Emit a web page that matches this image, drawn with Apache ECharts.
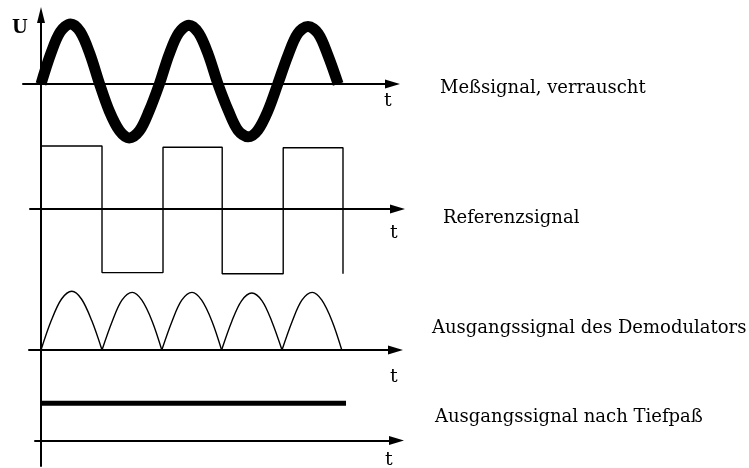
<!DOCTYPE html>
<html>
<head>
<meta charset="utf-8">
<script src="https://cdn.jsdelivr.net/npm/echarts@6/dist/echarts.min.js"></script>
<style>
  html, body { margin: 0; padding: 0; background: #fff; }
  #chart { width: 749px; height: 468px; }
</style>
</head>
<body>
<div id="chart"></div>
<script>
// Lock-in principle: time t in half-periods of the reference, voltage U in arbitrary units.

// Noisy measured signal (2.5 periods)
const measuredSignal = [
  [0, 0], [0.16, 0.5], [0.32, 0.87], [0.49, 1.0], [0.65, 0.87], [0.81, 0.5], [0.97, 0],
  [1.13, -0.45], [1.30, -0.78], [1.46, -0.9], [1.63, -0.78], [1.79, -0.45], [1.96, 0],
  [2.12, 0.49], [2.28, 0.85], [2.45, 0.98], [2.61, 0.85], [2.77, 0.49], [2.93, 0],
  [3.10, -0.44], [3.26, -0.77], [3.43, -0.88], [3.59, -0.77], [3.76, -0.44], [3.92, 0],
  [4.09, 0.48], [4.25, 0.84], [4.42, 0.96], [4.59, 0.84], [4.75, 0.48], [4.92, 0]
];

// Square-wave reference
const referenceSignal = [
  [0, 1.05], [1.01, 1.05], [1.01, -1.06], [2.02, -1.06],
  [2.02, 1.03], [3.0, 1.03], [3.0, -1.08], [4.01, -1.08],
  [4.01, 1.02], [5.0, 1.02], [5.0, -1.08]
];

// Demodulator output: one arch per half-period
const demodArc1 = [[0, 0], [0.17, 0.49], [0.34, 0.85], [0.51, 0.98], [0.67, 0.85], [0.84, 0.49], [1.01, 0]];
const demodArc2 = [[1.01, 0], [1.18, 0.48], [1.34, 0.83], [1.51, 0.96], [1.67, 0.83], [1.84, 0.48], [2.0, 0]];
const demodArc3 = [[2.0, 0], [2.17, 0.48], [2.33, 0.83], [2.5, 0.96], [2.66, 0.83], [2.83, 0.48], [2.99, 0]];
const demodArc4 = [[2.99, 0], [3.16, 0.48], [3.32, 0.82], [3.49, 0.95], [3.66, 0.82], [3.82, 0.48], [3.99, 0]];
const demodArc5 = [[3.99, 0], [4.16, 0.48], [4.32, 0.83], [4.49, 0.96], [4.65, 0.83], [4.82, 0.48], [4.98, 0]];
const demodulatorOutput = [demodArc1, demodArc2, demodArc3, demodArc4, demodArc5];

// Output after the low-pass filter (constant level)
const lowpassOutput = [[0, 0.62], [5.05, 0.62]];

const signalNames = [
  'Meßsignal, verrauscht',
  'Referenzsignal',
  'Ausgangssignal des Demodulators',
  'Ausgangssignal nach Tiefpaß'
];
const timeAxisName = 't';
const voltageAxisName = 'U';

// ---- layout (pixels) ----
const INK = '#000';
const SERIF = '"DejaVu Serif", "Liberation Serif", serif';
const X0 = 41;          // pixel of t = 0 (vertical axis)
const PX_PER_T = 60.4;  // pixels per half-period
const PX_PER_U = 60;    // pixels per voltage unit
const U_SPAN = 1.5;
const ARROW_LEN = 15;
const SMOOTH = 0.33;

const panels = [
  { y0: 84,    start: 23, tip: 400, tX: 388, tY: 101, labelX: 440, labelY: 86 },
  { y0: 209,   start: 30, tip: 405, tX: 394, tY: 233, labelX: 443, labelY: 216 },
  { y0: 350,   start: 29, tip: 403, tX: 394, tY: 377, labelX: 432, labelY: 326 },
  { y0: 440.5, start: 35, tip: 404, tX: 389, tY: 460, labelX: 435, labelY: 415 }
];

const textStyle = (size, weight) => ({ color: INK, fontFamily: SERIF, fontSize: size, fontWeight: weight || 'normal', lineHeight: 22 });

const grids = [], xAxes = [], yAxes = [], titles = [];
panels.forEach((p, i) => {
  const end = p.tip - ARROW_LEN / 2;
  grids.push({
    left: p.start, width: end - p.start,
    top: p.y0 - U_SPAN * PX_PER_U, height: 2 * U_SPAN * PX_PER_U,
    containLabel: false, outerBoundsMode: 'none'
  });
  xAxes.push({
    gridIndex: i, type: 'value',
    min: (p.start - X0) / PX_PER_T, max: (end - X0) / PX_PER_T,
    axisLine: { show: true, onZero: true, symbol: ['none', 'triangle'], symbolSize: [9, ARROW_LEN], lineStyle: { color: INK, width: 2 } },
    axisTick: { show: false }, axisLabel: { show: false }, splitLine: { show: false }
  });
  yAxes.push({ gridIndex: i, type: 'value', min: -U_SPAN, max: U_SPAN, show: false });
  // signal description on the right
  titles.push({ text: signalNames[i], left: p.labelX, top: p.labelY - 9, padding: 0, textStyle: textStyle(18) });
  // time-axis caption under the arrow
  titles.push({ text: timeAxisName, left: p.tX - 4, top: p.tY - 11, padding: 0, textStyle: textStyle(19) });
});

// Common vertical voltage axis spanning all four traces
const vTop = 7 + 8, vBottom = 466;
grids.push({ left: X0, width: 10, top: vTop, height: vBottom - vTop, containLabel: false, outerBoundsMode: 'none' });
xAxes.push({ gridIndex: 4, type: 'value', min: 0, max: 1, show: false });
yAxes.push({
  gridIndex: 4, type: 'value', min: 0, max: 1,
  axisLine: { show: true, onZero: false, symbol: ['none', 'triangle'], symbolSize: [8, 16], lineStyle: { color: INK, width: 2 } },
  axisTick: { show: false }, axisLabel: { show: false }, splitLine: { show: false }
});
titles.push({ text: voltageAxisName, left: 12, top: 17, padding: 0, textStyle: textStyle(18, 'bold') });

const lineBase = { type: 'line', showSymbol: false, symbol: 'none', silent: true, animation: false };
const series = [
  Object.assign({}, lineBase, { xAxisIndex: 0, yAxisIndex: 0, data: measuredSignal, smooth: SMOOTH,
    lineStyle: { color: INK, width: 11, join: 'round', cap: 'butt' } }),
  Object.assign({}, lineBase, { xAxisIndex: 1, yAxisIndex: 1, data: referenceSignal,
    lineStyle: { color: INK, width: 1.4 } }),
  ...demodulatorOutput.map(arc => Object.assign({}, lineBase, { xAxisIndex: 2, yAxisIndex: 2, data: arc, smooth: SMOOTH,
    lineStyle: { color: INK, width: 1.4 } })),
  Object.assign({}, lineBase, { xAxisIndex: 3, yAxisIndex: 3, data: lowpassOutput,
    lineStyle: { color: INK, width: 5 } })
];

const chart = echarts.init(document.getElementById('chart'), null, { renderer: 'canvas' });
chart.setOption({
  backgroundColor: '#fff',
  animation: false,
  title: titles,
  grid: grids,
  xAxis: xAxes,
  yAxis: yAxes,
  series: series
});
</script>
</body>
</html>
